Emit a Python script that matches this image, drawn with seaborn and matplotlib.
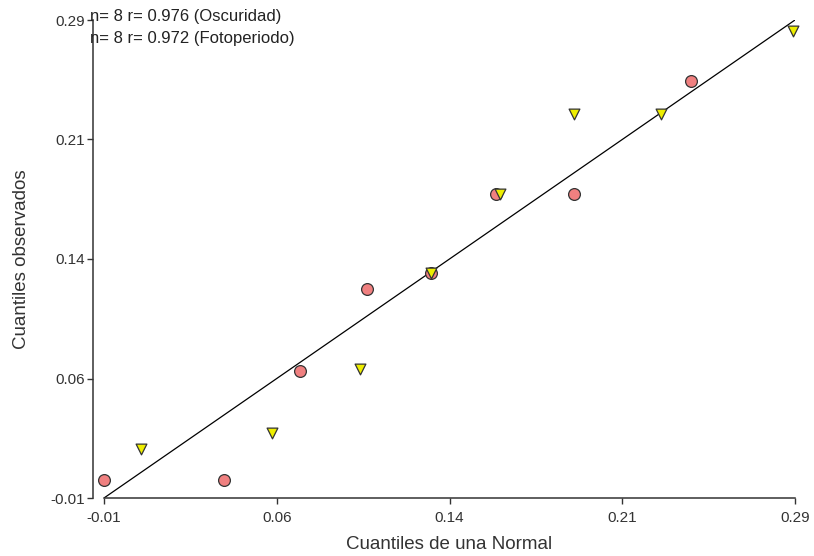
import matplotlib
matplotlib.use("Agg")
import matplotlib.pyplot as plt
import seaborn as sns
import pandas as pd
import numpy as np

# Data
osc_x = [-0.010, 0.042, 0.075, 0.104, 0.132, 0.160, 0.194, 0.245]
osc_y = [0.001, 0.001, 0.070, 0.121, 0.131, 0.181, 0.181, 0.252]
foto_x = [0.006, 0.063, 0.101, 0.132, 0.162, 0.194, 0.232, 0.289]
foto_y = [0.021, 0.031, 0.071, 0.131, 0.181, 0.231, 0.231, 0.283]
ref_line = [-0.01, 0.29]
tick_vals = [-0.01, 0.065, 0.14, 0.215, 0.29]
tick_labels = ["-0.01", "0.06", "0.14", "0.21", "0.29"]
annot = ["n= 8 r= 0.976 (Oscuridad)", "n= 8 r= 0.972 (Fotoperiodo)"]

sns.set_style("white")
plt.rcParams['font.family'] = ['Liberation Sans', 'DejaVu Sans']

fig = plt.figure(figsize=(8.14, 5.56), dpi=100)
ax = fig.add_axes([104/814, 1-498/556, 691/814, 478/556])

line_df = pd.DataFrame({"x": ref_line, "y": ref_line})
sns.lineplot(data=line_df, x="x", y="y", ax=ax, color="black", lw=0.9, zorder=1)

osc = pd.DataFrame({"x": osc_x, "y": osc_y})
foto = pd.DataFrame({"x": foto_x, "y": foto_y})
sns.scatterplot(data=osc, x="x", y="y", ax=ax, marker="o", s=72,
                color="#F08080", edgecolor="#333333", linewidth=0.9, zorder=3,
                clip_on=False)
sns.scatterplot(data=foto, x="x", y="y", ax=ax, marker="v", s=60,
                color="#EEEE00", edgecolor="#333333", linewidth=0.9, zorder=4,
                clip_on=False)

ax.set_xlim(-0.01, 0.29)
ax.set_ylim(-0.01, 0.29)
ax.set_xticks(tick_vals)
ax.set_xticklabels(tick_labels)
ax.set_yticks(tick_vals)
ax.set_yticklabels(tick_labels)
ax.tick_params(axis="both", direction="out", length=4.5, width=1, color="#333333",
               labelsize=11, labelcolor="#333333", bottom=True, left=True)
ax.tick_params(axis="y", pad=1.5)
ax.tick_params(axis="x", pad=5)
ax.set_xlabel("Cuantiles de una Normal", fontsize=13.5, color="#333333", labelpad=8)
ax.set_ylabel("Cuantiles observados", fontsize=13.5, color="#333333", labelpad=14)

sns.despine(ax=ax)
ax.spines["left"].set_position(("outward", 8))
for s in ["left", "bottom"]:
    ax.spines[s].set_color("#333333")
    ax.spines[s].set_linewidth(1.1)

fig.text(90/814, 1-16/556, annot[0], fontsize=12, color="#222222", va="center", ha="left")
fig.text(90/814, 1-39/556, annot[1], fontsize=12, color="#222222", va="center", ha="left")

fig.savefig("out.png", dpi=100)
